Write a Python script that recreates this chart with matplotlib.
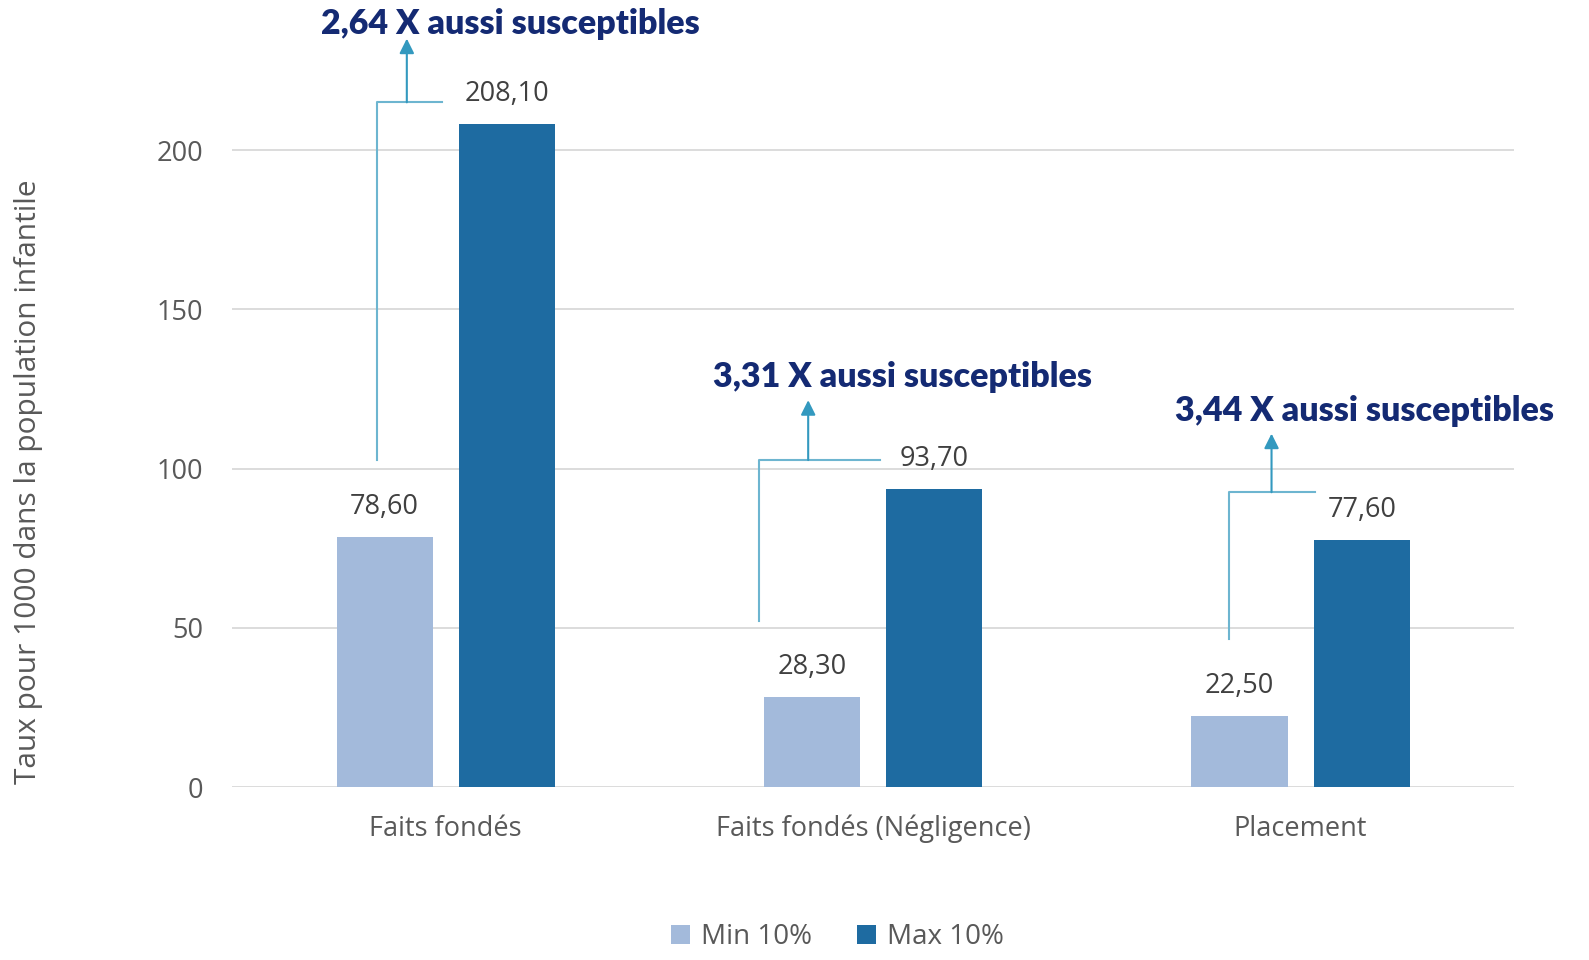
import numpy as np
import matplotlib.pyplot as plt

categories = ['Faits fondés', 'Faits fondés (Négligence)', 'Placement']
min_10 = [78.6, 28.3, 22.5]
max_10 = [208.1, 93.7, 77.6]
ratio_labels = ['2,64 X aussi susceptibles', '3,31 X aussi susceptibles', '3,44 X aussi susceptibles']
series_names = ['Min 10%', 'Max 10%']


def fmt(v):
    return f'{v:.2f}'.replace('.', ',')


def main():
    plt.rcParams['font.family'] = ['Open Sans', 'DejaVu Sans']
    fig = plt.figure(figsize=(15.89, 9.6), dpi=100)
    ax = fig.add_axes([0.146, 0.180, 0.807, 0.730])

    x = np.arange(len(categories))
    w = 0.225
    off = 0.143
    c_min = '#A3BADB'
    c_max = '#1E6BA1'
    b1 = ax.bar(x - off, min_10, w, color=c_min, label=series_names[0], zorder=3)
    b2 = ax.bar(x + off, max_10, w, color=c_max, label=series_names[1], zorder=3)

    for bars, vals in ((b1, min_10), (b2, max_10)):
        for b, v in zip(bars, vals):
            ax.text(b.get_x() + b.get_width() / 2, v + 5, fmt(v), ha='center', va='bottom',
                    fontsize=19.5, color='#404040')

    # brackets and arrows pointing at the ratio text
    line_c = '#6DB5D0'
    arrow_c = '#3399BF'
    brk_left = [-0.161, -0.267, -0.168]
    brk_right = [-0.009, 0.016, 0.033]
    arr_x = [-0.091, -0.152, -0.068]
    brk_top = [215, 102.7, 92.6]
    arr_tip = [235, 121.5, 111]
    txt_x = [0.152, 0.068, 0.150]
    txt_y = [239.6, 128.7, 118]
    for i in range(len(categories)):
        bottom = min_10[i] + 24
        ax.plot([i + brk_left[i], i + brk_left[i], i + brk_right[i]],
                [bottom, brk_top[i], brk_top[i]], color=line_c, lw=1.5,
                clip_on=False, zorder=4)
        ax.annotate('', xy=(i + arr_x[i], arr_tip[i]), xytext=(i + arr_x[i], brk_top[i]),
                    arrowprops=dict(arrowstyle='-|>', color=arrow_c, lw=1.5,
                                    mutation_scale=22, shrinkA=0, shrinkB=0),
                    annotation_clip=False, zorder=4)
        ax.text(i + txt_x[i], txt_y[i], ratio_labels[i], ha='center', va='center',
                fontsize=24.5, fontweight='heavy', color='#142A73',
                family=['Lato', 'DejaVu Sans'], clip_on=False)

    ax.set_xlim(-0.5, len(categories) - 0.5)
    ax.set_ylim(0, 220)
    ax.set_yticks([0, 50, 100, 150, 200])
    ax.set_xticks(x)
    ax.set_xticklabels(categories)
    ax.tick_params(axis='both', length=0, labelsize=19.5, labelcolor='#595959')
    ax.tick_params(axis='x', pad=20)
    ax.tick_params(axis='y', pad=21)
    ax.grid(axis='y', color='#D9D9D9', lw=1.3, zorder=0)
    for s in ax.spines.values():
        s.set_visible(False)
    ax.set_ylabel('Taux pour 1000 dans la population infantile', fontsize=21.5,
                  color='#595959')
    ax.yaxis.set_label_coords(-0.147, 0.436)

    fig.legend(handles=[b1, b2], labels=series_names, loc='center',
               bbox_to_anchor=(0.527, 0.024), ncol=2, frameon=False, fontsize=20,
               labelcolor='#595959', handlelength=0.7, handleheight=0.7,
               columnspacing=1.6, handletextpad=0.4)

    fig.savefig('out.png', dpi=100)


if __name__ == '__main__':
    main()
